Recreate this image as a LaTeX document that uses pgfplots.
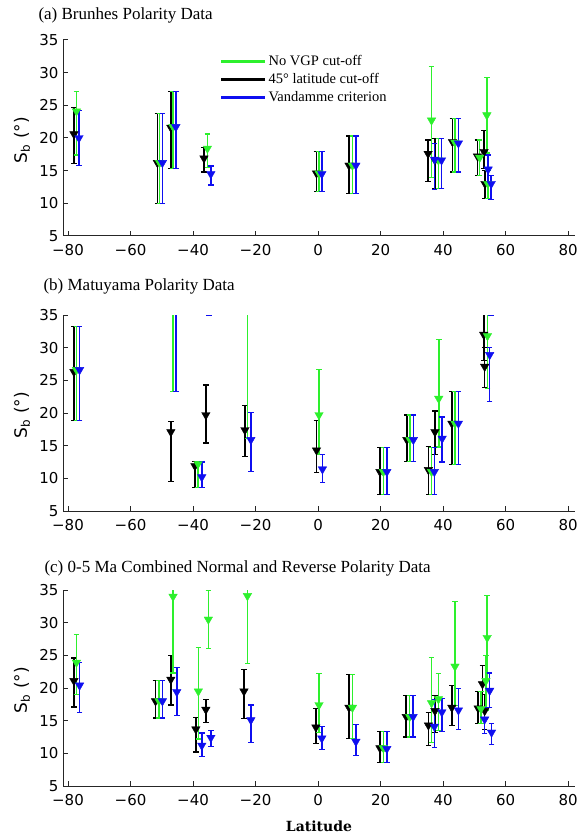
\documentclass[border=0pt]{standalone}
\usepackage{fontspec}
\setmainfont{Liberation Serif}
\newfontfamily\tickfam{DejaVu Sans}
\newfontfamily\labfam{DejaVu Serif}
\newfontfamily\ylfam{DejaVu Sans}
\usepackage{pgfplots}
\usepackage{pgfplotstable}
\pgfplotsset{compat=1.18}
\definecolor{vgreen}{RGB}{45,240,45}
\definecolor{vblue}{RGB}{15,15,240}

% panel (a)
\pgfplotstableread{
x y lo hi
-78.1 20.6 16.1 24.7
-51.4 16.2 10.0 23.7
-47.1 21.6 15.3 27.1
-36.5 16.9 14.8 18.6
-0.5 14.6 11.8 17.9
9.9 15.8 11.5 20.3
35.2 17.6 13.4 19.7
37.4 16.6 12.3 19.9
43.0 19.4 14.8 23.0
51.0 17.2 14.3 19.7
53.1 17.9 15.3 21.2
53.4 13.0 10.8 15.0
}\aK
\pgfplotstableread{
x y lo hi
-77.3 24.1 17.4 27.1
-50.7 16.2 10.0 23.7
-46.4 21.7 15.3 27.1
-35.4 18.4 15.5 20.6
0.3 14.6 11.8 17.9
11.0 15.8 11.5 20.3
36.3 22.7 14.0 31.0
38.5 16.6 12.3 19.9
43.8 19.3 14.8 23.0
51.7 17.0 14.3 19.7
54.0 23.5 17.7 29.2
54.3 13.0 10.8 15.0
}\aG
\pgfplotstableread{
x y lo hi
-76.5 20.0 15.8 24.2
-49.8 16.2 10.0 23.7
-45.5 21.7 15.3 27.1
-34.3 14.5 12.8 15.7
1.2 14.5 11.8 17.9
12.1 15.8 11.5 20.3
37.3 16.7 12.1 19.1
39.5 16.6 12.3 19.9
44.9 19.2 14.8 23.0
54.4 15.2 12.8 17.4
55.4 13.0 10.6 14.3
}\aB
% panel (b)
\pgfplotstableread{
x y lo hi
-78.1 26.3 18.8 33.2
-47.1 17.1 9.5 18.7
-39.4 11.9 8.6 12.6
-35.9 19.7 15.4 24.3
-23.4 17.4 13.3 21.2
-0.5 14.3 10.9 18.8
19.8 11.0 7.5 14.7
28.4 15.9 12.6 19.7
35.3 11.3 7.5 14.9
37.4 17.1 13.6 20.3
42.8 18.4 12.1 23.3
53.0 32.0 28.0 37.0
53.3 27.1 23.9 30.0
}\bK
\pgfplotstableread{
x y lo hi
-77.3 26.6 18.8 33.2
-46.4 40.0 23.3 50.0
-38.4 12.2 8.6 12.6
-22.6 40.0 16.1 50.0
0.3 19.7 13.6 26.7
20.9 11.0 7.5 14.7
29.4 15.9 12.6 19.7
36.3 11.0 7.5 14.7
38.6 22.2 14.8 31.2
43.8 18.4 12.1 23.3
54.2 31.8 23.8 40.0
}\bG
\pgfplotstableread{
x y lo hi
-76.3 26.6 18.8 33.2
-45.5 40.0 23.3 50.0
-37.2 10.2 8.6 12.5
-34.9 40.0 35.0 45.0
-21.5 15.9 11.0 20.1
1.4 11.4 9.4 13.7
22.0 11.0 7.5 14.7
30.5 15.9 12.6 19.7
37.2 11.0 7.5 14.7
39.7 16.1 12.5 19.4
44.9 18.4 12.1 23.3
54.9 28.9 21.7 30.0
55.3 40.0 35.0 45.0
}\bB
% panel (c)
\pgfplotstableread{
x y lo hi
-78.1 21.1 17.1 24.6
-52.0 18.0 15.4 21.1
-47.1 21.3 17.4 25.0
-39.1 13.7 10.2 15.5
-35.9 16.7 14.7 18.3
-23.7 19.5 15.3 22.8
-0.7 14.0 11.5 16.9
9.9 17.0 12.3 22.1
19.8 10.8 8.6 13.3
28.2 15.6 12.5 18.8
35.3 14.3 11.2 16.3
37.4 16.5 13.2 18.8
42.8 17.0 14.2 20.4
51.2 16.9 14.6 19.5
52.6 20.6 17.0 23.4
53.3 16.5 13.7 19.0
}\cK
\pgfplotstableread{
x y lo hi
-77.3 23.9 19.0 28.2
-50.9 18.0 15.4 21.1
-46.4 34.0 22.3 35.5
-38.3 19.5 12.2 26.2
-35.1 30.5 26.1 34.9
-22.6 34.1 23.7 35.5
0.3 17.4 13.2 22.2
11.0 17.0 12.3 22.1
20.9 10.8 8.6 13.3
29.3 15.6 12.5 18.8
36.3 17.7 11.7 24.7
38.5 18.3 13.5 22.2
43.8 23.3 17.3 33.2
52.1 16.8 14.6 19.5
53.7 21.1 16.5 25.0
54.1 27.7 21.3 34.1
}\cG
\pgfplotstableread{
x y lo hi
-76.3 20.4 16.3 23.9
-49.8 18.0 15.4 21.1
-45.2 19.4 15.8 23.1
-37.2 11.2 9.5 13.1
-34.3 12.4 11.0 13.5
-21.5 15.1 11.7 17.4
1.2 12.3 10.6 14.1
12.1 11.8 9.7 14.4
22.0 10.7 8.6 13.3
30.4 15.6 12.5 18.8
37.2 14.1 10.9 18.3
39.6 16.3 13.3 18.4
44.9 16.6 13.6 19.9
53.3 15.2 13.0 17.0
54.9 19.6 17.0 22.3
55.5 13.2 11.3 14.6
}\cB

\pgfplotsset{
  panel/.style={
    scale only axis, width=512pt, height=196pt,
    xmin=-81.6, xmax=82.2, ymin=5, ymax=35,
    axis x line*=bottom, axis y line*=left,
    xtick={-80,-60,-40,-20,0,20,40,60,80},
    xticklabels={−80,−60,−40,−20,0,20,40,60,80},
    ytick={5,10,15,20,25,30,35},
    tick align=inside, major tick length=5pt,
    tick style={line width=1pt, black!85},
    axis line style={line width=1pt, black!85},
    tick label style={font=\tickfam\fontsize{15}{17}\selectfont},
    xticklabel style={yshift=-5pt},
    yticklabel style={xshift=-1pt},
    /pgf/number format/assume math mode=true,
  },
  ser/.style={only marks, forget plot, color=#1, mark=triangle*, mark size=4.9pt,
    mark options={rotate=180, solid, fill=#1, draw=#1},
    error bars/y dir=both, error bars/y explicit,
    error bars/error bar style={line width=1.6pt, color=#1},
    error bars/error mark options={rotate=90, mark size=2.8pt, line width=1.2pt, color=#1}},
}
\newcommand{\plotset}[3]{%
  \addplot[ser=black] table[x=x, y=y, y error plus expr=\thisrow{hi}-\thisrow{y}, y error minus expr=\thisrow{y}-\thisrow{lo}] {#1};
  \addplot[ser=vgreen] table[x=x, y=y, y error plus expr=\thisrow{hi}-\thisrow{y}, y error minus expr=\thisrow{y}-\thisrow{lo}] {#2};
  \addplot[ser=vblue] table[x=x, y=y, y error plus expr=\thisrow{hi}-\thisrow{y}, y error minus expr=\thisrow{y}-\thisrow{lo}] {#3};
}

\begin{document}
\begin{tikzpicture}
\path[use as bounding box] (0,0) rectangle (579pt,-837pt);

\begin{axis}[panel, at={(63pt,-40pt)}, anchor=north west,
  legend style={at={(0.300,0.943)}, anchor=north west, draw=none, fill=none,
    font=\fontsize{14.5}{15}\selectfont, row sep=2.5pt,
    nodes={inner sep=2pt}},
  legend cell align=left,
  legend image code/.code={\draw[#1, line width=2.8pt] (0pt,0pt) -- (44pt,0pt);}]
\addlegendimage{vgreen}\addlegendentry{No VGP cut-off}
\addlegendimage{black}\addlegendentry{45° latitude cut-off}
\addlegendimage{vblue}\addlegendentry{Vandamme criterion}
\plotset{\aK}{\aG}{\aB}
\end{axis}

\begin{axis}[panel, at={(63pt,-315pt)}, anchor=north west]
\plotset{\bK}{\bG}{\bB}
\end{axis}

\begin{axis}[panel, at={(63pt,-590pt)}, anchor=north west]
\plotset{\cK}{\cG}{\cB}
\end{axis}

\node[anchor=base west, font=\fontsize{17}{19}\selectfont] at (35pt,-20pt) {(a) Brunhes Polarity Data};
\node[anchor=base west, font=\fontsize{17}{19}\selectfont] at (40pt,-290pt) {(b) Matuyama Polarity Data};
\node[anchor=base west, font=\fontsize{17}{19}\selectfont] at (41pt,-572pt) {(c) 0-5 Ma Combined Normal and Reverse Polarity Data};

\node[rotate=90, font=\ylfam\fontsize{17}{19}\selectfont] at (22pt,-140pt) {S\textsubscript{b} (°)};
\node[rotate=90, font=\ylfam\fontsize{17}{19}\selectfont] at (22pt,-415pt) {S\textsubscript{b} (°)};
\node[rotate=90, font=\ylfam\fontsize{17}{19}\selectfont] at (22pt,-690pt) {S\textsubscript{b} (°)};

\node[anchor=base, font=\labfam\bfseries\fontsize{14}{16}\selectfont] at (319pt,-831pt) {Latitude};
\end{tikzpicture}
\end{document}
